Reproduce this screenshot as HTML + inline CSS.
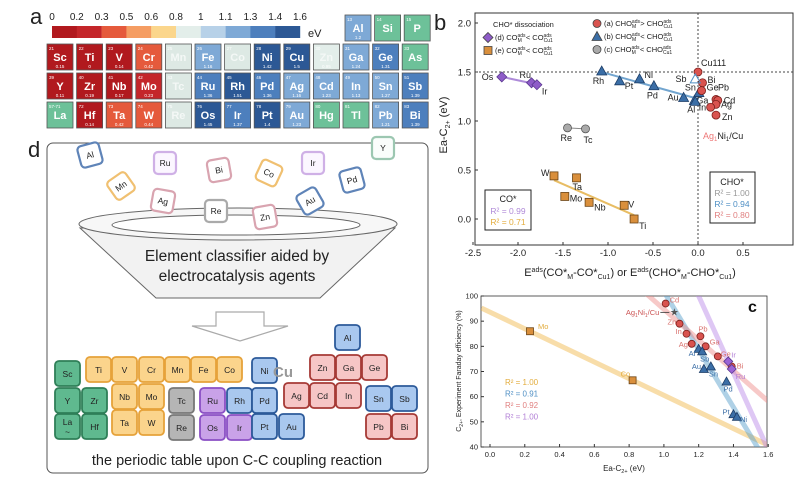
<!DOCTYPE html>
<html><head><meta charset="utf-8"><style>
html,body{margin:0;padding:0;background:#fff}
svg{display:block;font-family:"Liberation Sans",Arial,sans-serif}
</style></head><body>
<svg id="fig" width="800" height="480" viewBox="0 0 800 480" xmlns="http://www.w3.org/2000/svg">
<g id="pa"></g>
<g id="pb"></g>
<g id="pc"></g>
<g id="pd"></g>
</svg>
<script>
// ---------- DATA ----------
// panel a
const aCells = ['Sc','Ti','V','Cr','Mn','Fe','Co','Ni','Cu','Zn','Ga','Ge','As','Y','Zr','Nb','Mo','Tc','Ru','Rh','Pd','Ag','Cd','In','Sn','Sb','La','Hf','Ta','W','Re','Os','Ir','Pt','Au','Hg','Tl','Pb','Bi','Al','Si','P'];
const aNums = ['21','22','23','24','25','26','27','28','29','30','31','32','33','39','40','41','42','43','44','45','46','47','48','49','50','51','57-71','72','73','74','75','76','77','78','79','80','81','82','83','13','14','15'];
const aVals = [0.15,0,0.14,0.42,null,1.16,null,1.42,1.5,0.95,1.24,1.31,'g',0.11,0.19,0.17,0.23,null,1.36,1.51,1.36,1.16,1.23,1.13,1.27,1.39,'g',0.14,0.42,0.44,null,1.45,1.37,1.4,1.23,'g','g',1.21,1.39,1.2,'g','g'];
const aTicks = ['0','0.2','0.3','0.5','0.6','0.8','1','1.1','1.3','1.4','1.6'];
// panel b
const bDNames=['Os','Ru','Ir'], bDX=[-2.18,-1.85,-1.79], bDY=[1.45,1.39,1.37];
const bENames=['W','Ta','Mo','Nb','V','Ti'], bEX=[-1.6,-1.35,-1.48,-1.21,-0.82,-0.71], bEY=[0.44,0.42,0.23,0.17,0.14,0.0];
const bBNames=['Rh','Pt','Ni','Pd','Au','Ga','Al','Sn'], bBX=[-1.07,-0.87,-0.65,-0.49,-0.16,-0.04,-0.03,0.01], bBY=[1.51,1.41,1.43,1.36,1.24,1.21,1.2,1.29];
const bANames=['Cu111','Bi','Ge','Pb','Cd','Ag','In','Zn'], bAX=[0.0,0.05,0.04,0.2,0.22,0.2,0.14,0.2], bAY=[1.5,1.39,1.31,1.22,1.21,1.17,1.14,1.06];
const bCNames=['Re','Tc'], bCX=[-1.45,-1.25], bCY=[0.93,0.92];
const bXTicks=[-2.5,-2.0,-1.5,-1.0,-0.5,0.0,0.5], bYTicks=[0.0,0.5,1.0,1.5,2.0];
// panel c
const cONames=['Mo','Co'], cOX=[0.23,0.82], cOY=[86,66.5];
const cRNames=['Cd','Zn','In','Pb','Ag','Ga','Ge','Bi'], cRX=[1.01,1.09,1.13,1.21,1.16,1.24,1.31,1.39], cRY=[97,89,85,84,81,80,76,72];
const cBNames=['Al','Sb','Au','Sn','Pd','Pt','Ni'], cBX=[1.2,1.22,1.23,1.27,1.36,1.4,1.42], cBY=[79,78,71,72,66,53,52];
const cPNames=['Ir','Ru'], cPX=[1.37,1.39], cPY=[74,71];
const cStarX=[1.06], cStarY=[93.5];
const cXTicks=[0.0,0.2,0.4,0.6,0.8,1.0,1.2,1.4,1.6], cYTicks=[40,50,60,70,80,90,100];
const cR2=['R² = 1.00','R² = 0.91','R² = 0.92','R² = 1.00'];

// ---------- helpers ----------
const NS='http://www.w3.org/2000/svg';
function mk(parent,tag,attrs,text){const e=document.createElementNS(NS,tag);for(const k in attrs)e.setAttribute(k,attrs[k]);if(text!==undefined)e.textContent=text;parent.appendChild(e);return e;}
function fit(xs,ys){const n=xs.length;let mx=0,my=0;for(let i=0;i<n;i++){mx+=xs[i];my+=ys[i];}mx/=n;my/=n;let sxy=0,sxx=0;for(let i=0;i<n;i++){sxy+=(xs[i]-mx)*(ys[i]-my);sxx+=(xs[i]-mx)**2;}const m=sxx?sxy/sxx:0;return {m:m,b:my-m*mx};}

// ---------- panel a ----------
(function(){
const g=document.getElementById('pa');
const bins=[0,0.2,0.3,0.5,0.6,0.8,1,1.1,1.3,1.4,1.6];
const cols=['#b1191e','#c4262a','#e55a3c','#f59d63','#fbd68c','#e3eeea','#b7d1e8','#7ea9d6','#4d7fbd','#2c5895'];
function col(v){if(v==='g')return '#6dc199';if(v===null)return '#dde9e4';for(let i=cols.length-1;i>=0;i--){if(v>=bins[i])return cols[i];}return cols[0];}
const t=mk(g,'text',{x:30,y:24,'font-size':22,fill:'#222'},'a');

for(let i=0;i<cols.length;i++){const r=mk(g,'rect',{x:52+i*24.8,y:26,width:25,height:12,fill:cols[i]});
}
aTicks.forEach((s,i)=>{const e=mk(g,'text',{x:52+i*24.8,y:20,'font-size':10,'text-anchor':'middle',fill:'#222'},s);
});
const ev=mk(g,'text',{x:308,y:37,'font-size':11,fill:'#222'},'eV');
aCells.forEach((s,i)=>{let x,y;
 if(i<13){x=47+i*29.6;y=44;}else if(i<26){x=47+(i-13)*29.6;y=73;}else if(i<39){x=47+(i-26)*29.6;y=102;}else{x=345+(i-39)*29.6;y=15;}
 const v=aVals[i];const c=mk(g,'g',{});
 
 mk(c,'rect',{x:x,y:y,width:26,height:26,fill:col(v),stroke:'#555','stroke-width':0.8});
 const light=(v===null)||(typeof v==='number'&&v>=0.5&&v<1.1);
 mk(c,'text',{x:x+2,y:y+6,'font-size':4.5,fill:'#fff'},aNums[i]);
 mk(c,'text',{x:x+13,y:y+17,'font-size':11,'font-weight':'bold','text-anchor':'middle',fill:light?'#f4f8f6':'#fff'},s);
 if(typeof v==='number')mk(c,'text',{x:x+13,y:y+24,'font-size':4.5,'text-anchor':'middle',fill:'#fff'},String(v));
});
})();

// ---------- panel b ----------
(function(){
const g=document.getElementById('pb');
const L=475,R=793,T=13,B=245;
const X=v=>698+v*90, Y=v=>219-v*98;
const lb=mk(g,'text',{x:434,y:30,'font-size':22,fill:'#222'},'b');
const fr=mk(g,'rect',{x:L,y:T,width:R-L,height:B-T,fill:'none',stroke:'#333','stroke-width':1});
bXTicks.forEach(v=>{mk(g,'line',{x1:X(v),x2:X(v),y1:B,y2:B-3,stroke:'#333'});const e=mk(g,'text',{x:X(v),y:B+11,'font-size':9.5,'text-anchor':'middle',fill:'#222'},v.toFixed(1));});
bYTicks.forEach(v=>{mk(g,'line',{x1:L,x2:L+3,y1:Y(v),y2:Y(v),stroke:'#333'});const e=mk(g,'text',{x:L-4,y:Y(v)+3.5,'font-size':9.5,'text-anchor':'end',fill:'#222'},v.toFixed(1));});
const yt=mk(g,'text',{x:0,y:0,'font-size':11,'text-anchor':'middle',fill:'#222',transform:'translate(447,125) rotate(-90)'});
yt.innerHTML='Ea-C<tspan font-size="7" dy="3">2+</tspan><tspan dy="-3"> (eV)</tspan>';
const xt=mk(g,'text',{x:630,y:276,'font-size':11,'text-anchor':'middle',fill:'#222'});
xt.innerHTML='E<tspan font-size="7" dy="-4">ads</tspan><tspan dy="4">(CO*</tspan><tspan font-size="7" dy="3">M</tspan><tspan dy="-3">-CO*</tspan><tspan font-size="7" dy="3">Cu1</tspan><tspan dy="-3">)  or E</tspan><tspan font-size="7" dy="-4">ads</tspan><tspan dy="4">(CHO*</tspan><tspan font-size="7" dy="3">M</tspan><tspan dy="-3">-CHO*</tspan><tspan font-size="7" dy="3">Cu1</tspan><tspan dy="-3">)</tspan>';
mk(g,'line',{x1:L,x2:R,y1:Y(1.5),y2:Y(1.5),stroke:'#444','stroke-dasharray':'2,2'});
mk(g,'line',{x1:X(0),x2:X(0),y1:T,y2:B,stroke:'#444','stroke-dasharray':'2,2'});
function line(xs,ys,c){const f=fit(xs,ys);const a=Math.min(...xs),b=Math.max(...xs);const e=mk(g,'line',{x1:X(a),y1:Y(f.m*a+f.b),x2:X(b),y2:Y(f.m*b+f.b),stroke:c,'stroke-width':2,opacity:0.8});}
line(bDX,bDY,'#9a6fd0');line(bEX,bEY,'#e3ad3e');line(bBX,bBY,'#4f8fc4');
const cp=mk(g,'line',{x1:X(bCX[0]),y1:Y(bCY[0]),x2:X(bCX[1]),y2:Y(bCY[1]),stroke:'#888','stroke-width':1});
function marker(p,shape,x,y,fill,stroke){const s=4;let e;
 if(shape==='sq')e=mk(p,'rect',{x:x-s,y:y-s,width:2*s,height:2*s,fill:fill,stroke:stroke,'stroke-width':0.8});
 else if(shape==='ci')e=mk(p,'circle',{cx:x,cy:y,r:s,fill:fill,stroke:stroke,'stroke-width':0.8});
 else if(shape==='tr')e=mk(p,'polygon',{points:`${x},${y-s-1} ${x-s-1},${y+s} ${x+s+1},${y+s}`,fill:fill,stroke:stroke,'stroke-width':0.8});
 else e=mk(p,'polygon',{points:`${x},${y-s-1} ${x+s+1},${y} ${x},${y+s+1} ${x-s-1},${y}`,fill:fill,stroke:stroke,'stroke-width':0.8});
 return e;}
function series(names,xs,ys,shape,fill,stroke,tag,offs){names.forEach((n,i)=>{const m=marker(g,shape,X(xs[i]),Y(ys[i]),fill,stroke);
 
 const o=offs[i]||[5,4];const t=mk(g,'text',{x:X(xs[i])+o[0],y:Y(ys[i])+o[1],'font-size':9,fill:'#222'},n);
 });}
series(bDNames,bDX,bDY,'di','#8e5cc8','#5a3790','point-d',[[-20,3],[-12,-5],[5,10]]);
series(bENames,bEX,bEY,'sq','#d98f3c','#6b4416','point-e',[[-13,0],[-4,12],[5,5],[5,8],[4,2],[5,10]]);
series(bBNames,bBX,bBY,'tr','#3b6ea6','#1d3d66','point-b',[[-9,13],[5,8],[5,-1],[-7,13],[-16,3],[2,3],[-8,11],[-14,-2]]);
series(bCNames,bCX,bCY,'ci','#aaa','#555','point-c',[[-7,13],[-2,14]]);
series(bANames,bAX,bAY,'ci','#d9534f','#7a1f1c','point-a',[[3,-6],[5,0],[5,0],[2,-9],[6,3],[5,3],[-12,3],[6,5]]);
const sb=mk(g,'text',{x:X(-0.25),y:Y(1.43)+3,'font-size':9,fill:'#222'},'Sb');
mk(g,'polygon',{points:`${X(-0.03)},${Y(1.43)-5} ${X(-0.03)-5},${Y(1.43)+4} ${X(-0.03)+5},${Y(1.43)+4}`,fill:'none',stroke:'#4f8fc4'});
const an=mk(g,'text',{x:703,y:139,'font-size':9,fill:'#222'});
an.innerHTML='<tspan fill="#e77">Ag</tspan><tspan font-size="6" dy="2" fill="#e77">1</tspan><tspan dy="-2">Ni</tspan><tspan font-size="6" dy="2">1</tspan><tspan dy="-2">/Cu</tspan>';
// legend
const lg=mk(g,'g',{});
mk(lg,'text',{x:493,y:27,'font-size':7.5,fill:'#222'},'CHO* dissociation');
const ent=[[488,40,'di','#8e5cc8','(d) CO','ads','M',' < CO','ads','Cu1'],[488,53,'sq','#d98f3c','(e) CO','ads','M',' < CO','ads','Cu1'],
[597,26,'ci','#d9534f','(a) CHO','ads','M',' > CHO','ads','Cu1'],[597,39,'tr','#3b6ea6','(b) CHO','ads','M',' < CHO','ads','Cu1'],[597,52,'ci','#aaa','(c) CHO','ads','M',' < CHO','ads','Cu1']];
ent.forEach(e=>{const it=mk(lg,'g',{});
 marker(it,e[2],e[0],e[1]-2.5,e[3],'#444');
 const t=mk(it,'text',{x:e[0]+7,y:e[1],'font-size':7.5,fill:'#222'});
 t.innerHTML=`${e[4]}<tspan font-size="5" dy="-3">${e[5]}</tspan><tspan font-size="5" dy="5" dx="-8">${e[6]}</tspan><tspan dy="-2" dx="2">${e[7]}</tspan><tspan font-size="5" dy="-3">${e[8]}</tspan><tspan font-size="5" dy="5" dx="-8">${e[9]}</tspan>`;});
const b1=mk(g,'g',{});
mk(b1,'rect',{x:485,y:190,width:46,height:40,fill:'#fff',stroke:'#222'});
mk(b1,'text',{x:508,y:202,'font-size':9,'text-anchor':'middle',fill:'#222'},'CO*');
mk(b1,'text',{x:508,y:214,'font-size':8.5,'text-anchor':'middle',fill:'#b08ad8'},'R² = 0.99');
mk(b1,'text',{x:508,y:225,'font-size':8.5,'text-anchor':'middle',fill:'#e3ad3e'},'R² = 0.71');
const b2=mk(g,'g',{});
mk(b2,'rect',{x:710,y:172,width:45,height:51,fill:'#fff',stroke:'#222'});
mk(b2,'text',{x:732,y:185,'font-size':9,'text-anchor':'middle',fill:'#222'},'CHO*');
mk(b2,'text',{x:732,y:196,'font-size':8.5,'text-anchor':'middle',fill:'#999'},'R² = 1.00');
mk(b2,'text',{x:732,y:207,'font-size':8.5,'text-anchor':'middle',fill:'#4f8fc4'},'R² = 0.94');
mk(b2,'text',{x:732,y:218,'font-size':8.5,'text-anchor':'middle',fill:'#e08080'},'R² = 0.80');
})();

// ---------- panel c ----------
(function(){
const g=document.getElementById('pc');
const L=481,R=767,T=296,B=447;
const X=v=>490+v*173.9, Y=v=>T+(100-v)*(B-T)/60;
const xmin=-0.05,xmax=1.6;
const cl=mk(g,'defs',{});const cp=mk(cl,'clipPath',{id:'cclip'});mk(cp,'rect',{x:L,y:T,width:R-L,height:B-T});
const fr=mk(g,'rect',{x:L,y:T,width:R-L,height:B-T,fill:'#fff',stroke:'#333','stroke-width':0.8});
function line(xs,ys,c,name){const f=fit(xs,ys);const e=mk(g,'line',{x1:X(xmin),y1:Y(f.m*xmin+f.b),x2:X(xmax),y2:Y(f.m*xmax+f.b),stroke:c,'stroke-width':5,opacity:0.45,'clip-path':'url(#cclip)'});}
line(cOX,cOY,'#f0b442','fit-line-orange');line(cBX,cBY,'#4f9bc8','fit-line-blue');line(cRX,cRY,'#ee8a86','fit-line-red');line(cPX.concat([1.2]),cPY.concat([100]),'#b885e8','fit-line-purple');
cXTicks.forEach(v=>{mk(g,'line',{x1:X(v),x2:X(v),y1:B,y2:B-3,stroke:'#333'});const e=mk(g,'text',{x:X(v),y:B+10,'font-size':7.5,'text-anchor':'middle',fill:'#222'},v.toFixed(1));});
cYTicks.forEach(v=>{mk(g,'line',{x1:L,x2:L+3,y1:Y(v),y2:Y(v),stroke:'#333'});const e=mk(g,'text',{x:L-3,y:Y(v)+2.5,'font-size':7.5,'text-anchor':'end',fill:'#222'},String(v));});
const xt=mk(g,'text',{x:624,y:471,'font-size':8,'text-anchor':'middle',fill:'#222'});
xt.innerHTML='Ea-C<tspan font-size="5.5" dy="2">2+</tspan><tspan dy="-2"> (eV)</tspan>';
const yt=mk(g,'text',{x:0,y:0,'font-size':7,'text-anchor':'middle',fill:'#222',transform:'translate(461,371) rotate(-90)'});
yt.innerHTML='C<tspan font-size="5" dy="2">2+</tspan><tspan dy="-2">, Experiment Faraday efficiency (%)</tspan>';
const lb=mk(g,'text',{x:748,y:312,'font-size':16,'font-weight':'bold',fill:'#111'},'c');
function mark(shape,x,y,fill,stroke){const s=3.5;if(shape==='sq')return mk(g,'rect',{x:x-s,y:y-s,width:2*s,height:2*s,fill:fill,stroke:stroke,'stroke-width':0.8});
 if(shape==='ci')return mk(g,'circle',{cx:x,cy:y,r:s,fill:fill,stroke:stroke,'stroke-width':0.8});
 if(shape==='tr')return mk(g,'polygon',{points:`${x},${y-s-1} ${x-s-1},${y+s} ${x+s+1},${y+s}`,fill:fill,stroke:stroke,'stroke-width':0.8});
 return mk(g,'polygon',{points:`${x},${y-s-1} ${x+s+1},${y} ${x},${y+s+1} ${x-s-1},${y}`,fill:fill,stroke:stroke,'stroke-width':0.8});}
function series(names,xs,ys,shape,fill,stroke,tc,tag,offs){names.forEach((n,i)=>{const m=mark(shape,X(xs[i]),Y(ys[i]),fill,stroke);
 
 const o=offs[i]||[5,3];const t=mk(g,'text',{x:X(xs[i])+o[0],y:Y(ys[i])+o[1],'font-size':7.5,fill:tc},n);});}
series(cONames,cOX,cOY,'sq','#d98f3c','#6b4416','#e3ad3e','point-o',[[8,-2],[-12,-4]]);
series(cRNames,cRX,cRY,'ci','#d9534f','#7a1f1c','#d9736f','point-r',[[4,-1],[-12,1],[-11,0],[-2,-5],[-13,3],[4,-2],[3,0],[5,2]]);
series(cBNames,cBX,cBY,'tr','#3b6ea6','#1d3d66','#3b6ea6','point-b',[[-10,7],[-2,10],[-12,0],[-2,10],[-3,10],[-11,0],[3,5]]);
series(cPNames,cPX,cPY,'di','#9b64d6','#5a3790','#b27fd6','point-p',[[3,-4],[4,10]]);
cStarX.forEach((v,i)=>{const s=mk(g,'text',{x:X(v),y:Y(cStarY[i])+3,'font-size':10,'text-anchor':'middle',fill:'#555'},'★');
 mk(g,'line',{x1:X(v)-5,y1:Y(cStarY[i]),x2:X(v)-14,y2:Y(cStarY[i]),stroke:'#333','stroke-width':0.8});
 const t=mk(g,'text',{x:X(v)-15,y:Y(cStarY[i])+2.5,'font-size':7.5,'text-anchor':'end',fill:'#c55'});
 t.innerHTML='Ag<tspan font-size="5" dy="2">1</tspan><tspan dy="-2">Ni</tspan><tspan font-size="5" dy="2">1</tspan><tspan dy="-2">/Cu</tspan>';});
const rc=['#e3ad3e','#4f8fc4','#e08080','#b27fd6'];
cR2.forEach((s,i)=>{const t=mk(g,'text',{x:505,y:385+i*11.5,'font-size':8,fill:rc[i]},s);});
})();

// ---------- panel d ----------
(function(){
const g=document.getElementById('pd');
const lb=mk(g,'text',{x:28,y:157,'font-size':22,fill:'#222'},'d');
const fr=mk(g,'rect',{x:47,y:143,width:381,height:330,rx:6,fill:'#fff',stroke:'#555','stroke-width':1});
const th={G:['#5fb98f','#2f7f58'],O:['#fbd48c','#e6a23a'],Y:['#b5b5b5','#777'],P:['#c9a2e8','#8a4fc4'],B:['#a9c8ef','#2c5a9a'],R:['#f6c6c6','#a63a36']};
const lt={G:['#fafdfb','#9cc7b1'],O:['#fff','#f0c071'],Y:['#fff','#aaa'],P:['#fbf6ff','#cfb0e6'],B:['#fff','#5f84b8'],R:['#fff','#d9a4b0']};
// floating tiles
const fl=[['Al',90,155,-15,'B'],['Mn',121,186,-35,'O'],['Ru',165,163,0,'P'],['Ag',163,201,10,'R'],['Bi',219,170,-10,'R'],['Re',216,211,0,'Y'],['Co',269,173,25,'O'],['Zn',265,217,-10,'R'],['Ir',313,163,0,'P'],['Au',310,201,-30,'B'],['Pd',352,180,-15,'B'],['Y',383,148,0,'G']];
const fun=mk(g,'g',{});
function tile(p,n,x,y,rot,c,pal,sz,fs){const t=mk(p,'g',{transform:`translate(${x},${y}) rotate(${rot})`});
 
 mk(t,'rect',{x:-sz/2,y:-sz/2,width:sz,height:sz,rx:4,fill:pal[c][0],stroke:pal[c][1],'stroke-width':2.2});
 mk(t,'text',{x:0,y:fs*0.36,'font-size':fs,'text-anchor':'middle',fill:'#222'},n);}
fl.slice(0,4).forEach(f=>tile(g,f[0],f[1],f[2],f[3],f[4],lt,22,8.5));
mk(fun,'polygon',{points:'80,228 395,228 320,298 156,298',fill:'#f2f2f2',stroke:'#666','stroke-width':1});
mk(fun,'ellipse',{cx:238,cy:224,rx:159,ry:16,fill:'#f7f7f7',stroke:'#666','stroke-width':1});
mk(fun,'ellipse',{cx:236,cy:225,rx:124,ry:10,fill:'#fff',stroke:'#666','stroke-width':1});
fl.slice(4).forEach(f=>tile(g,f[0],f[1],f[2],f[3],f[4],lt,22,8.5));
const t1=mk(g,'text',{x:237,y:261,'font-size':15.5,'text-anchor':'middle',fill:'#222'},'Element classifier aided by');
const t2=mk(g,'text',{x:237,y:281,'font-size':15.5,'text-anchor':'middle',fill:'#222'},'electrocatalysis agents');
const ar=mk(g,'polygon',{points:'216,312 264,312 264,326 288,326 240,341 192,326 216,326',fill:'#fff',stroke:'#aaa','stroke-width':1.2});
// classified periodic table
const tt=[['Sc',55,361,'G'],['Y',55,388,'G'],['La ~',55,414,'G'],['Zr',82,388,'G'],['Hf',82,414,'G'],
['Ti',86,357,'O'],['V',112,357,'O'],['Cr',139,357,'O'],['Mn',165,357,'O'],['Fe',191,357,'O'],['Co',217,357,'O'],['Nb',112,384,'O'],['Mo',139,384,'O'],['Ta',112,410,'O'],['W',139,410,'O'],
['Tc',169,388,'Y'],['Re',169,415,'Y'],['Ru',200,388,'P'],['Os',200,415,'P'],['Ir',227,415,'P'],
['Rh',227,388,'B'],['Ni',252,358,'B'],['Pd',252,388,'B'],['Pt',252,414,'B'],['Au',279,414,'B'],['Al',335,325,'B'],['Sn',366,386,'B'],['Sb',392,386,'B'],
['Zn',310,355,'R'],['Ga',336,355,'R'],['Ge',362,355,'R'],['Ag',284,383,'R'],['Cd',310,383,'R'],['In',336,383,'R'],['Pb',366,414,'R'],['Bi',392,414,'R']];
tt.forEach(f=>{const t=mk(g,'g',{});
 mk(t,'rect',{x:f[1],y:f[2],width:25,height:25,rx:4,fill:th[f[3]][0],stroke:th[f[3]][1],'stroke-width':1.8});
 if(f[0]==='La ~'){mk(t,'text',{x:f[1]+12.5,y:f[2]+11,'font-size':8.5,'text-anchor':'middle',fill:'#222'},'La');mk(t,'text',{x:f[1]+12.5,y:f[2]+21,'font-size':8.5,'text-anchor':'middle',fill:'#222'},'~');}
 else mk(t,'text',{x:f[1]+12.5,y:f[2]+16,'font-size':8.5,'text-anchor':'middle',fill:'#222'},f[0]);});
const cu=mk(g,'text',{x:283,y:377,'font-size':15,'font-weight':'bold','text-anchor':'middle',fill:'#999'},'Cu');
const cap=mk(g,'text',{x:237,y:465,'font-size':14.5,'text-anchor':'middle',fill:'#222'},'the periodic table upon C-C coupling reaction');
})();
</script>
</body></html>
